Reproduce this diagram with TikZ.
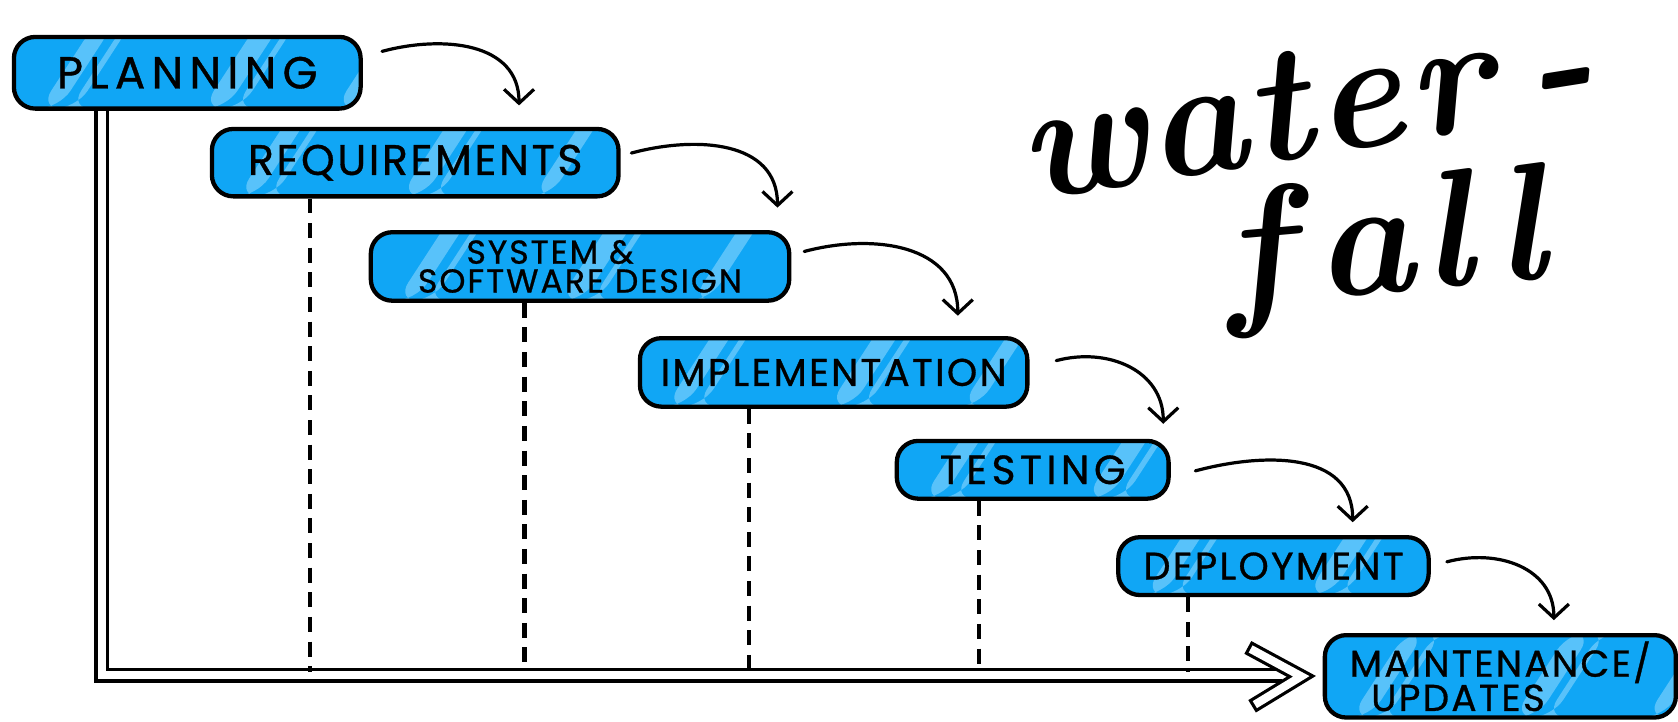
\documentclass[tikz,border=0pt]{standalone}
\usepackage{fontspec}
\newfontfamily\handfont{Poppins}[LetterSpace=6, FakeBold=0.8]
\usetikzlibrary{arrows.meta,calc}
\pgfdeclarelayer{background}
\pgfsetlayers{background,main}
\definecolor{boxblue}{RGB}{16,166,245}
\definecolor{stripeblue}{RGB}{88,194,250}
\tikzset{
  box/.style={draw=black, line width=2pt, fill=boxblue, rounded corners=10pt,
    inner sep=0pt, align=center, text=black,
    path picture={
      \foreach \a/\w in {12/9, 26/3, 88/11, 103/3, 150/8, 190/4}{
        \fill[stripeblue] ([xshift=\a pt]path picture bounding box.south west)
          -- ++(\w pt,0) -- ++(26pt,40pt) -- ++(-\w pt,0) -- cycle;
      }
    }},
  flow/.style={line width=1.5pt, line cap=round, -{Straight Barb[length=6.5pt,width=14pt,line width=1.5pt]}},
  dashv/.style={line width=2pt, dash pattern=on 7pt off 4.5pt},
  axis/.style={line width=1.5pt, double=white, double distance=3.8pt, line join=miter},
  titletext/.style={anchor=base west, inner sep=0pt,
    font=\fontsize{78}{78}\selectfont\bfseries\itshape},
}
\begin{document}
\begin{tikzpicture}[x=0.5pt,y=-0.5pt]
\useasboundingbox (0,0) rectangle (1568,674);

% axis coordinates
\coordinate (corner) at (95,631);
\coordinate (tip) at (1216,632);
\coordinate (chevA) at (1166,605);
\coordinate (chevB) at (1170,660);
\coordinate (axend) at (1198,631);

% title
\node[titletext, rotate=9] (water) at (960,188) {w\kern0pt a\kern1pt t\kern2pt e\kern3pt r\kern16pt -};
\node[titletext, rotate=5] (fall) at (1148,286) {f\kern11pt a\kern4pt l\kern11pt l};

% boxes
\node[box, minimum width=162pt, minimum height=33.5pt, font=\handfont\fontsize{21}{24}\selectfont\addfontfeature{LetterSpace=14}] (plan) at (175,68) {PLANNING};
\node[box, minimum width=190pt, minimum height=31.5pt, font=\handfont\fontsize{20}{24}\selectfont] (req) at (388,152) {REQUIREMENTS};
\node[box, minimum width=195.5pt, minimum height=32pt, font=\handfont\fontsize{15.5}{13.5}\selectfont] (sys) at (542,249) {SYSTEM \&\hspace*{28pt}\\SOFTWARE DESIGN};
\node[box, minimum width=181pt, minimum height=32pt, font=\handfont\fontsize{18}{24}\selectfont] (impl) at (779,348) {IMPLEMENTATION};
\node[box, minimum width=127pt, minimum height=27pt, font=\handfont\fontsize{19}{24}\selectfont\addfontfeature{LetterSpace=11}] (test) at (965,439) {TESTING};
\node[box, minimum width=145pt, minimum height=27pt, font=\handfont\fontsize{18}{24}\selectfont] (deploy) at (1190,529) {DEPLOYMENT};
\node[box, minimum width=164pt, minimum height=38.5pt, align=left, font=\handfont\fontsize{17.5}{16}\selectfont] (maint) at (1402,632) {MAINTENANCE/\\\hspace*{10pt}UPDATES};

% background and axis (behind the boxes)
\begin{pgfonlayer}{background}
\fill[white] (0,0) rectangle (1568,674);
\draw[axis] (plan.south -| corner) -- (corner) -- (axend);
\end{pgfonlayer}
\draw[line width=6.8pt, line join=miter] (chevA) -- (tip) -- (chevB);
\draw[white, line width=3.8pt, line join=miter, shorten <=1.5pt, shorten >=1.5pt] (chevA) -- (tip) -- (chevB);

% dashed drops
\draw[dashv] ([shift={(-98,0)}]req.south) -- ([shift={(-98,-3)}]req.south |- corner);
\draw[dashv] ([shift={(-52,0)}]sys.south) -- ([shift={(-52,-3)}]sys.south |- corner);
\draw[dashv] ([shift={(-79,0)}]impl.south) -- ([shift={(-79,-3)}]impl.south |- corner);
\draw[dashv] ([shift={(-50,0)}]test.south) -- ([shift={(-50,-3)}]test.south |- corner);
\draw[dashv] ([shift={(-80,0)}]deploy.south) -- ([shift={(-80,-3)}]deploy.south |- corner);

% flow arrows
\draw[flow] ([shift={(18,-20)}]plan.east) to[out=15,in=90,looseness=1.1] ([shift={(-95,-20)}]req.north east);
\draw[flow] ([shift={(10,-9)}]req.east) to[out=15,in=90,looseness=1.1] ([shift={(-13,-21)}]sys.north east);
\draw[flow] ([shift={(12,-14)}]sys.east) to[out=15,in=90,looseness=1.1] ([shift={(-67,-19)}]impl.north east);
\draw[flow] ([shift={(25,-11)}]impl.east) to[out=15,in=90,looseness=1.1] ([shift={(-7,-14)}]test.north east);
\draw[flow] ([shift={(23,1)}]test.east) to[out=15,in=90,looseness=1.1] ([shift={(-73,-12)}]deploy.north east);
\draw[flow] ([shift={(15,-4)}]deploy.east) to[out=15,in=90,looseness=1.1] ([shift={(50,-12)}]maint.north);
\end{tikzpicture}
\end{document}
